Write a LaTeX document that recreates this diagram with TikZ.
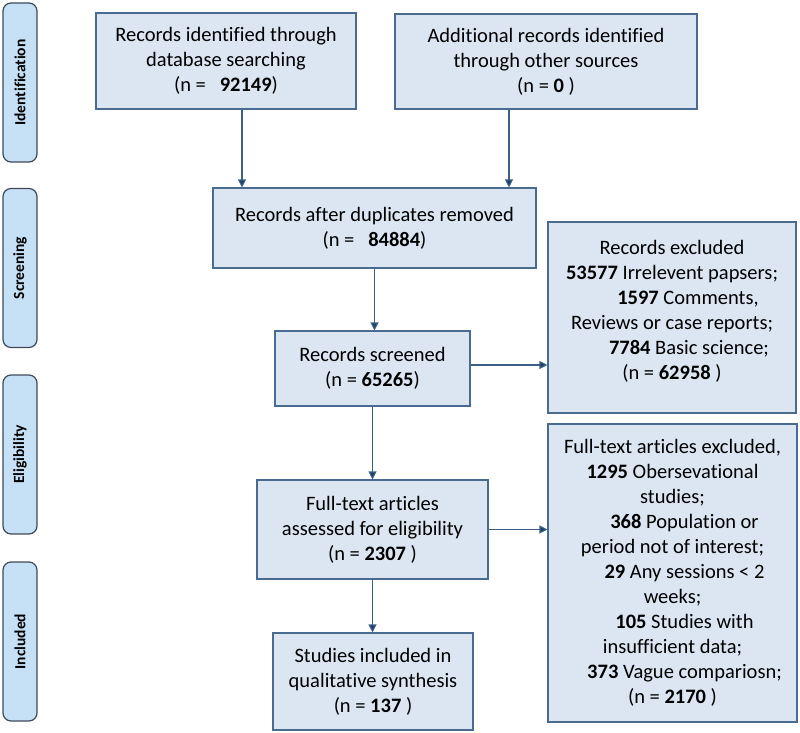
\documentclass[tikz,border=0pt]{standalone}
\usepackage{fontspec}
\setmainfont{Carlito}[Ligatures=NoCommon]
\usetikzlibrary{arrows.meta}
\definecolor{boxfill}{HTML}{DCE6F2}
\definecolor{boxline}{HTML}{4A6B8F}
\definecolor{sidefill}{HTML}{C6E0F6}
\definecolor{sideline}{HTML}{3E4A58}
\definecolor{arrline}{HTML}{3C5F85}
\definecolor{arrhead}{HTML}{1F3F66}
\tikzset{
  box/.style={draw=boxline, fill=boxfill, line width=1.1pt, align=center, inner sep=0pt,
    font=\fontsize{20.5}{25}\selectfont},
  side/.style={draw=sideline, fill=sidefill, line width=1.2pt, rounded corners=8pt, rotate=90,
    minimum width=159pt, minimum height=34pt, inner sep=0pt, font=\bfseries\fontsize{15.5}{17}\selectfont},
  arr/.style={draw=arrline, line width=1.1pt, -{Triangle[length=8pt,width=8pt,fill=arrhead]}},
  plain/.style={align=center, inner sep=0pt, font=\fontsize{20.5}{25}\selectfont}
}
\begin{document}
\begin{tikzpicture}[x=1pt,y=-1pt]
\useasboundingbox (0,0) rectangle (800,733);
% side labels
\node[side] (s1) at (20,82.5) {Identification};
\node[side] (s2) at (20,268) {Screening};
\node[side] (s3) at (20,454.5) {Eligibility};
\node[side] (s4) at (20,641.5) {Included};
% boxes
\node[box, minimum width=260pt, minimum height=96pt] (b1) at (226,61)
  {Records identified through\\database searching\\(n =\ \ \ \textbf{92149})};
\node[box, minimum width=302pt, minimum height=95pt] (b2) at (546,61.5)
  {Additional records identified\\through other sources\\(n =\ \textbf{0} )};
\node[box, minimum width=323pt, minimum height=80pt] (b3) at (374.5,228)
  {Records after duplicates removed\\(n =\ \ \ \textbf{84884})};
\node[box, minimum width=195pt, minimum height=75pt] (b4) at (372.5,368.5)
  {Records screened\\(n =\ \textbf{65265})};
\node[box, minimum width=248pt, minimum height=191pt] (b5) at (672,317.5) {};
\node[plain] (t5) at (672,311)
  {Records excluded\\
   \textbf{53577} Irrelevent papsers;\\
   \hspace*{32pt}\textbf{1597} Comments,\\
   Reviews or case reports;\\
   \hspace*{34pt}\textbf{7784} Basic science;\\
   (n =\ \textbf{62958} )};
\node[box, minimum width=249pt, minimum height=298pt] (b7) at (672.5,573)
  {Full-text articles excluded,\\
   \textbf{1295} Obersevational\\
   studies;\\
   \hspace*{24pt}\textbf{368} Population or\\
   period not of interest;\\
   \hspace*{24pt}\textbf{29} Any sessions < 2\\
   weeks;\\
   \hspace*{24pt}\textbf{105} Studies with\\
   insufficient data;\\
   \hspace*{24pt}\textbf{373} Vague compariosn;\\
   (n =\ \textbf{2170} )};
\node[box, minimum width=231pt, minimum height=99pt] (b6) at (372.5,529.5)
  {Full-text articles\\assessed for eligibility\\(n =\ \textbf{2307} )};
\node[box, minimum width=200pt, minimum height=97pt] (b8) at (373,681.5)
  {Studies included in\\qualitative synthesis\\(n =\ \textbf{137} )};
% connectors
\draw[arr] ([xshift=16pt]b1.south) -- ([xshift=16pt]b1.south |- b3.north);
\draw[arr] ([xshift=-37pt]b2.south) -- ([xshift=-37pt]b2.south |- b3.north);
\draw[arr] (b3.south) -- (b3.south |- b4.north);
\draw[arr] (b4.south) -- (b4.south |- b6.north);
\draw[arr] (b6.south) -- (b6.south |- b8.north);
\draw[arr] ([yshift=3.5pt]b4.east) -- ([yshift=3.5pt]b4.east -| b5.west);
\draw[arr] (b6.east) -- (b6.east -| b7.west);
\end{tikzpicture}
\end{document}
